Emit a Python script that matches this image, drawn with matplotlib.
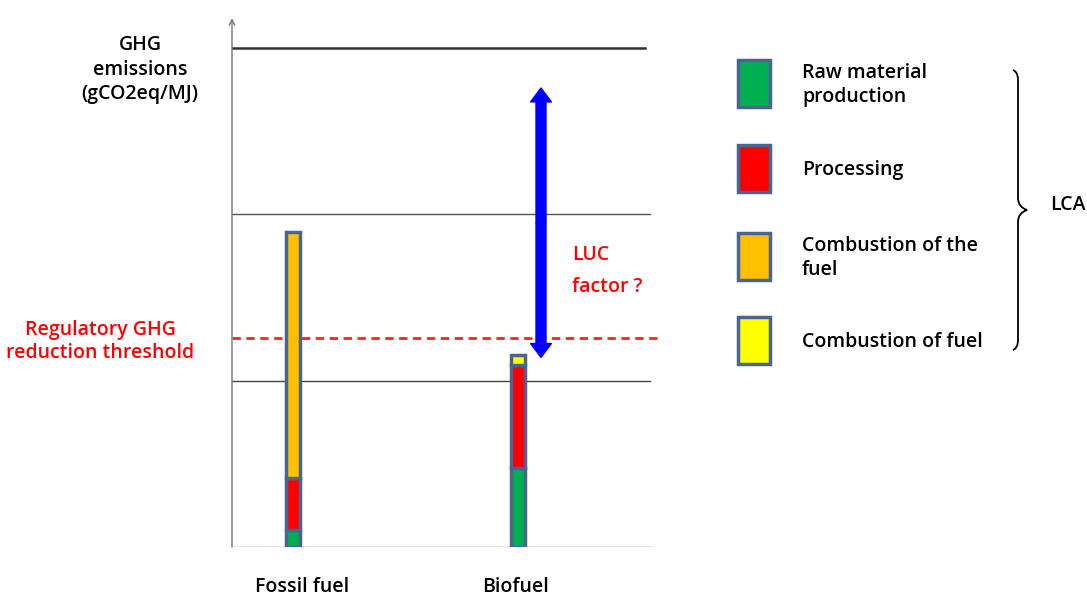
import matplotlib.pyplot as plt
import matplotlib.patches as mpatches
from matplotlib.path import Path

plt.rcParams['font.family'] = ['Open Sans', 'DejaVu Sans']

# data (arbitrary GHG units)
fuels = ['Fossil fuel', 'Biofuel']
raw_material = [0.10, 0.475]
processing = [0.315, 0.62]
combustion_the_fuel = [1.48, 0.0]
combustion_fuel = [0.0, 0.06]
gridlines = [1, 2, 3]
threshold = 1.257
luc_arrow = [1.14, 2.76]

legend_labels = ['Raw material\nproduction', 'Processing',
                 'Combustion of the\nfuel', 'Combustion of fuel']
colors = ['#00b050', '#ff0000', '#ffc000', '#ffff00']
edge = '#4a6590'

W, H = 1087, 596
fig = plt.figure(figsize=(W / 100, H / 100), dpi=100)

# chart axes: x from 232 px to 660 px, y 0 at 547 px, 166.3 px per unit
px = 166.3
ax = fig.add_axes([232 / W, (H - 547) / H, (660 - 232) / W, 3.2 * px / H])
ax.set_xlim((232 - 293) / 225, (660 - 293) / 225)
ax.set_ylim(0, 3.2)
ax.axis('off')


def xd(p):
    return (p - 293) / 225


# grid lines
ax.plot([xd(228), xd(645)], [gridlines[2]] * 2, color='#333333', lw=1.8)
ax.plot([xd(228), xd(650)], [gridlines[1]] * 2, color='#555555', lw=1.0)
ax.plot([xd(232), xd(650)], [gridlines[0]] * 2, color='#444444', lw=1.0)
ax.plot([xd(232), xd(652)], [0, 0], color='#777777', lw=1.0)
ax.plot([xd(232), xd(658)], [threshold] * 2, color='#ff2020', lw=2, ls=(0, (3, 2)))

# y axis arrow
ax.annotate('', xy=(xd(232), 3.18), xytext=(xd(232), 0),
            arrowprops=dict(arrowstyle='->', color='#777777', lw=1.0,
                            shrinkA=0, shrinkB=0))

# stacked bars
xpos = [0, 1]
stack = [raw_material, processing, combustion_the_fuel, combustion_fuel]
bottom = [0, 0]
for vals, c in zip(stack, colors):
    for i in range(2):
        if vals[i] > 0:
            ax.bar(xpos[i], vals[i], bottom=bottom[i], width=0.062, color=c,
                   edgecolor=edge, linewidth=2.5, zorder=3)
    bottom = [b + v for b, v in zip(bottom, vals)]

# LUC arrow (double headed)
mid = sum(luc_arrow) / 2
for end in luc_arrow:
    ax.add_patch(mpatches.FancyArrowPatch(
        (xd(541), mid), (xd(541), end),
        arrowstyle='simple,head_width=1.5,head_length=1.0,tail_width=0.72',
        mutation_scale=10, color='#0000ff', shrinkA=0, shrinkB=0, zorder=4))

ax.text(xd(572), (547 - 271) / px, 'LUC\nfactor ?', color='#ff0000', fontsize=14,
        fontweight='semibold', ha='left', va='center', linespacing=1.75)

# overlay in pixel coordinates for annotations outside the chart
ov = fig.add_axes([0, 0, 1, 1], zorder=-1)
ov.set_xlim(0, W)
ov.set_ylim(H, 0)
ov.axis('off')

# category labels
ov.text(302, 587, fuels[0], ha='center', va='center',
        fontsize=14, fontweight='semibold')
ov.text(516, 587, fuels[1], ha='center', va='center',
        fontsize=14, fontweight='semibold')

# y label
ov.text(140, 70, 'GHG\nemissions\n(gCO2eq/MJ)', ha='center',
        va='center', fontsize=14, fontweight='semibold', linespacing=1.3)

# threshold label
ov.text(100, 341, 'Regulatory GHG\nreduction threshold',
        ha='center', va='center', fontsize=14, fontweight='semibold',
        color='#ff0000', linespacing=1.2)

# legend
leg_y = [85, 170, 258, 342]
for lab, c, y in zip(legend_labels, colors, leg_y):
    ov.add_patch(mpatches.Rectangle((738, y - 25), 32, 47, facecolor=c,
                                    edgecolor=edge, linewidth=2.5))
    ov.text(802, y, lab, ha='left', va='center', fontsize=14,
            fontweight='semibold', linespacing=1.3)

# curly brace
bx, tip, top, bot, ym = 1018, 1027, 70, 350, 210
verts = [(bx - 5, top), (bx, top + 2), (bx, top + 10), (bx, top + 10),
         (bx, ym - 12), (bx, ym - 3), (tip, ym),
         (bx, ym + 3), (bx, ym + 12), (bx, ym + 12),
         (bx, bot - 10), (bx, bot - 2), (bx - 5, bot)]
codes = [Path.MOVETO, Path.CURVE3, Path.CURVE3, Path.LINETO,
         Path.LINETO, Path.CURVE3, Path.CURVE3,
         Path.CURVE3, Path.CURVE3, Path.LINETO,
         Path.LINETO, Path.CURVE3, Path.CURVE3]
ov.add_patch(mpatches.PathPatch(Path(verts, codes), facecolor='none',
                                edgecolor='black', lw=1.3))
ov.text(1068, 205, 'LCA', ha='center', va='center',
        fontsize=14, fontweight='semibold')

fig.savefig('out.png', dpi=100)
